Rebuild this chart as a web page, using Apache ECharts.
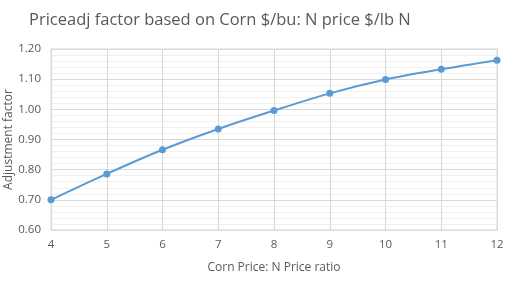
<!DOCTYPE html>
<html><head><meta charset="utf-8">
<script src="https://cdn.jsdelivr.net/npm/echarts@6/dist/echarts.min.js"></script>
<style>html,body{margin:0;padding:0;background:#fff}#c{width:505px;height:284px}</style>
</head><body><div id="c"></div>
<script>
const ratios = [4, 5, 6, 7, 8, 9, 10, 11, 12];
const factors = [0.700, 0.786, 0.866, 0.935, 0.996, 1.053, 1.099, 1.133, 1.163];
const titleText = 'Priceadj factor based on Corn $/bu: N price $/lb N';
const xName = 'Corn Price: N Price ratio';
const yName = 'Adjustment factor';

const chart = echarts.init(document.getElementById('c'));
const font = '"Open Sans", "Noto Sans", sans-serif';
chart.setOption({
  animation: false,
  title: {text: titleText, left: 29, top: 12, padding: 0,
    textStyle: {fontFamily: font, fontSize: 16.5, fontWeight: 'normal', color: '#595959'}},
  grid: {left: 51, right: 8, top: 49, bottom: 54, show: true, borderColor: '#d9d9d9', borderWidth: 1,
    containLabel: false, outerBoundsMode: 'none'},
  xAxis: {type: 'value', min: 4, max: 12, interval: 1,
    name: xName, nameLocation: 'middle', nameGap: 32, nameMoveOverlap: false,
    nameTextStyle: {fontFamily: font, fontSize: 12, color: '#595959'},
    axisLine: {show: true, lineStyle: {color: '#d9d9d9'}},
    axisTick: {show: false},
    axisLabel: {fontFamily: font, fontSize: 11.5, color: '#595959', margin: 9},
    splitLine: {show: true, lineStyle: {color: '#d9d9d9', width: 1}}},
  yAxis: {type: 'value', min: 0.6, max: 1.2, interval: 0.1,
    name: yName, nameLocation: 'middle', nameGap: 36, nameMoveOverlap: false,
    nameTextStyle: {fontFamily: font, fontSize: 12, color: '#595959'},
    axisLine: {show: true, lineStyle: {color: '#d9d9d9'}},
    axisTick: {show: false},
    axisLabel: {fontFamily: font, fontSize: 11.5, color: '#595959', margin: 10,
      formatter: v => v.toFixed(2)},
    splitLine: {show: true, lineStyle: {color: '#d9d9d9', width: 1}},
    minorTick: {show: false, splitNumber: 5},
    minorSplitLine: {show: true, lineStyle: {color: '#f0f0f0', width: 1}}},
  series: [{type: 'line', data: ratios.map((r, i) => [r, factors[i]]),
    smooth: 0.3, symbol: 'circle', symbolSize: 7,
    lineStyle: {color: '#5B9BD5', width: 2},
    itemStyle: {color: '#5B9BD5'}}]
});
</script></body></html>
